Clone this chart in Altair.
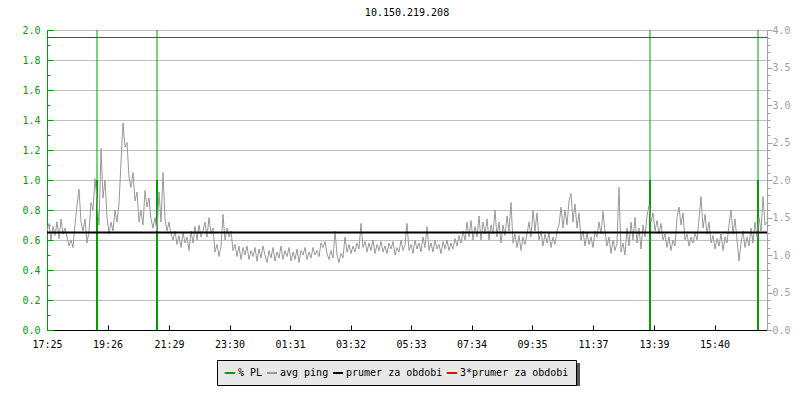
import altair as alt
import pandas as pd

# ---------------- data ----------------
title_text = "10.150.219.208"

# x axis: minutes since 17:25 (24 h window)
x_domain_minutes = [0, 1440]
tick_minutes = [0, 121, 244, 365, 486, 607, 728, 849, 970, 1092, 1214, 1335]
tick_labels = ["17:25", "19:26", "21:29", "23:30", "01:31", "03:32",
               "05:33", "07:34", "09:35", "11:37", "13:39", "15:40"]

# avg ping samples, one every 4 minutes
ping_step_min = 4
ping_values = [
    0.66, 0.71, 0.60, 0.69, 0.63, 0.72, 0.61, 0.74, 0.64, 0.68,
    0.62, 0.56, 0.60, 0.55, 0.70, 0.83, 0.94, 0.72, 0.66, 0.74,
    0.58, 0.66, 0.85, 0.80, 1.01, 0.86, 0.70, 1.21, 0.88, 1.00,
    0.75, 0.64, 0.72, 0.66, 0.80, 0.72, 0.84, 1.12, 1.38, 1.22,
    1.25, 1.02, 0.95, 1.05, 0.86, 0.92, 0.72, 0.80, 0.70, 0.93,
    0.82, 0.88, 0.74, 0.68, 0.75, 0.66, 0.92, 0.72, 1.05, 0.74,
    0.66, 0.72, 0.64, 0.60, 0.66, 0.57, 0.63, 0.55, 0.65, 0.58,
    0.62, 0.53, 0.66, 0.58, 0.69, 0.60, 0.70, 0.62, 0.66, 0.72,
    0.62, 0.75, 0.64, 0.68, 0.52, 0.57, 0.49, 0.56, 0.77, 0.60,
    0.68, 0.62, 0.66, 0.53, 0.57, 0.49, 0.56, 0.47, 0.55, 0.50,
    0.56, 0.47, 0.53, 0.49, 0.55, 0.46, 0.54, 0.48, 0.56, 0.50,
    0.45, 0.53, 0.48, 0.55, 0.46, 0.52, 0.48, 0.56, 0.47, 0.53,
    0.49, 0.55, 0.46, 0.52, 0.47, 0.54, 0.45, 0.53, 0.50, 0.55,
    0.47, 0.52, 0.48, 0.55, 0.50, 0.53, 0.49, 0.58, 0.55, 0.59,
    0.51, 0.47, 0.53, 0.48, 0.66, 0.50, 0.45, 0.51, 0.48, 0.62,
    0.52, 0.57, 0.51, 0.56, 0.52, 0.58, 0.54, 0.71, 0.55, 0.59,
    0.52, 0.58, 0.53, 0.60, 0.51, 0.57, 0.53, 0.59, 0.52, 0.56,
    0.51, 0.58, 0.54, 0.59, 0.50, 0.55, 0.52, 0.60, 0.53, 0.57,
    0.71, 0.53, 0.57, 0.51, 0.60, 0.54, 0.58, 0.52, 0.62, 0.55,
    0.69, 0.53, 0.58, 0.52, 0.60, 0.54, 0.57, 0.51, 0.59, 0.54,
    0.60, 0.53, 0.58, 0.54, 0.61, 0.56, 0.63, 0.58, 0.66, 0.60,
    0.72, 0.62, 0.73, 0.60, 0.69, 0.62, 0.76, 0.60, 0.72, 0.64,
    0.74, 0.60, 0.70, 0.64, 0.80, 0.62, 0.72, 0.58, 0.70, 0.63,
    0.76, 0.66, 0.85, 0.58, 0.64, 0.55, 0.63, 0.53, 0.62, 0.57,
    0.64, 0.72, 0.62, 0.80, 0.66, 0.78, 0.60, 0.66, 0.56, 0.64,
    0.58, 0.65, 0.55, 0.62, 0.57, 0.66, 0.70, 0.82, 0.68, 0.80,
    0.70, 0.86, 0.91, 0.72, 0.84, 0.68, 0.78, 0.60, 0.66, 0.56,
    0.65, 0.57, 0.62, 0.55, 0.66, 0.62, 0.72, 0.64, 0.79, 0.66,
    0.56, 0.62, 0.51, 0.60, 0.53, 0.58, 0.95, 0.52, 0.58, 0.50,
    0.68, 0.56, 0.72, 0.60, 0.75, 0.58, 0.68, 0.54, 0.70, 0.62,
    0.76, 0.83, 0.72, 0.78, 0.66, 0.73, 0.64, 0.71, 0.60, 0.64,
    0.55, 0.62, 0.53, 0.60, 0.56, 0.75, 0.82, 0.70, 0.78, 0.60,
    0.64, 0.56, 0.62, 0.58, 0.65, 0.60, 0.74, 0.89, 0.68, 0.77,
    0.64, 0.72, 0.58, 0.63, 0.54, 0.61, 0.56, 0.64, 0.53, 0.62,
    0.58, 0.70, 0.80, 0.64, 0.74, 0.60, 0.46, 0.58, 0.66, 0.55,
    0.62, 0.56, 0.68, 0.58, 0.72, 0.62, 0.75, 0.66, 0.89, 0.70,
    0.72,
]

# packet loss events (minutes since start)
pl_minutes = [100, 220, 1206, 1422]
pl_values = [1.0, 1.0, 1.0, 1.0]
pl_spike_top = 2.0

mean_value = 0.65
triple_mean_value = 1.95

series_names = ["% PL", "avg ping", "prumer za obdobi", "3*prumer za obdobi"]
series_colors = ["#00a000", "#999999", "#000000", "#ff0000"]

left_domain = [0, 2]
right_domain = [0, 4]
left_ticks = [round(i * 0.1, 1) for i in range(21)]
right_ticks = [round(i * 0.1, 1) for i in range(41)]

# ---------------- tables ----------------
ping_df = pd.DataFrame({
    "t": [i * ping_step_min for i in range(len(ping_values))],
    "v": ping_values,
    "series": series_names[1],
})
pl_df = pd.DataFrame({
    "t": pl_minutes,
    "lo": [0.0] * len(pl_minutes),
    "hi": pl_values,
    "top": [pl_spike_top] * len(pl_minutes),
    "series": series_names[0],
})
mean_df = pd.DataFrame({"lo": [mean_value], "series": [series_names[2]]})
triple_df = pd.DataFrame({"lo": [triple_mean_value], "series": [series_names[3]]})
right_df = pd.DataFrame({"r": [0.0]})
shadow_df = pd.DataFrame({"k": [0]})

FONT = "DejaVu Sans Mono"
GREEN = series_colors[0]
AXGRAY = "#a0a0a0"

label_expr = ""
for m, lab in zip(tick_minutes, tick_labels):
    label_expr += f"datum.value == {m} ? '{lab}' : "
label_expr += "''"

x_enc = alt.X(
    "t:Q",
    scale=alt.Scale(domain=x_domain_minutes, nice=False, zero=False),
    axis=alt.Axis(
        values=tick_minutes, labelExpr=label_expr, title=None, grid=False,
        domainColor="#000000", domainWidth=1, tickColor="#000000",
        tickSize={"condition": {"test": "true", "value": -5}, "value": -5},
        labelPadding=14, labelFont=FONT, labelFontSize=10, labelColor="#000000",
        labelOverlap=False, labelFlush=False,
    ),
)

major_left = "round(datum.value * 10) % 2 == 0"
left_axis = alt.Axis(
    values=left_ticks, title=None, orient="left",
    grid=True, gridColor="#c0c0c0", gridWidth=1,
    gridOpacity={"condition": {"test": major_left, "value": 1}, "value": 0},
    domainColor=GREEN, tickColor=GREEN, labelColor=GREEN,
    tickSize={"condition": {"test": major_left, "value": -6}, "value": -3},
    labelPadding=13, labelFont=FONT, labelFontSize=10,
    labelExpr=f"{major_left} ? format(datum.value, '.1f') : ''",
    labelOverlap=False, labelFlush=False,
)


def y_left(field):
    return alt.Y(field, scale=alt.Scale(domain=left_domain, nice=False, zero=True), axis=left_axis)


color_enc = alt.Color(
    "series:N",
    scale=alt.Scale(domain=series_names, range=series_colors),
    legend=alt.Legend(
        title=None, orient="none", legendX=170, legendY=330, direction="horizontal",
        fillColor="#e8e8e8", strokeColor="#000000", padding=7, columnPadding=0,
        labelFont=FONT, labelFontSize=10, labelColor="#000000", labelOffset=2,
        symbolType="stroke", symbolSize=100, symbolStrokeWidth=2, symbolOpacity=1,
    ),
)

shadow = alt.Chart(shadow_df).mark_rect(color="#555555").encode(
    x=alt.value(173), x2=alt.value(533), y=alt.value(333), y2=alt.value(358)
)

pl_thin = alt.Chart(pl_df).mark_rule(strokeWidth=1).encode(
    x=x_enc, y=y_left("lo:Q"), y2="top:Q", color=color_enc
)
pl_thick = alt.Chart(pl_df).mark_rule(strokeWidth=2).encode(
    x=x_enc, y=y_left("lo:Q"), y2="hi:Q", color=color_enc
)
ping = alt.Chart(ping_df).mark_line(strokeWidth=1, interpolate="linear").encode(
    x=x_enc, y=y_left("v:Q"), color=color_enc
)
mean_rule = alt.Chart(mean_df).mark_rule(strokeWidth=2).encode(
    y=y_left("lo:Q"), color=color_enc
)
triple_rule = alt.Chart(triple_df).mark_rule(strokeWidth=1).encode(
    y=y_left("lo:Q"), color=color_enc
)

major_right = "round(datum.value * 10) % 5 == 0"
right_layer = alt.Chart(right_df).mark_rule(opacity=0).encode(
    y=alt.Y(
        "r:Q",
        scale=alt.Scale(domain=right_domain, nice=False, zero=True),
        axis=alt.Axis(
            orient="right", values=right_ticks, title=None, grid=False,
            domainColor=AXGRAY, tickColor=AXGRAY, labelColor=AXGRAY,
            tickSize={"condition": {"test": major_right, "value": 5}, "value": 3},
            labelPadding=0, labelFont=FONT, labelFontSize=10,
            labelExpr=f"{major_right} ? format(datum.value, '.1f') : ''",
            labelOverlap=False, labelFlush=False,
        ),
    )
)

main = alt.layer(shadow, pl_thin, pl_thick, ping, mean_rule, triple_rule)

chart = alt.layer(main, right_layer).resolve_scale(y="independent").properties(
    width=720,
    height=300,
    title=alt.TitleParams(title_text, font=FONT, fontSize=10, fontWeight="normal",
                          color="#000000", offset=7, anchor="middle"),
    autosize=alt.AutoSizeParams(type="none"),
    padding={"left": 39, "top": 22, "right": 25, "bottom": 56},
).configure_view(strokeWidth=0).configure(background="#ffffff")

chart.save("out.html", embed_options={"renderer": "svg", "actions": False})
